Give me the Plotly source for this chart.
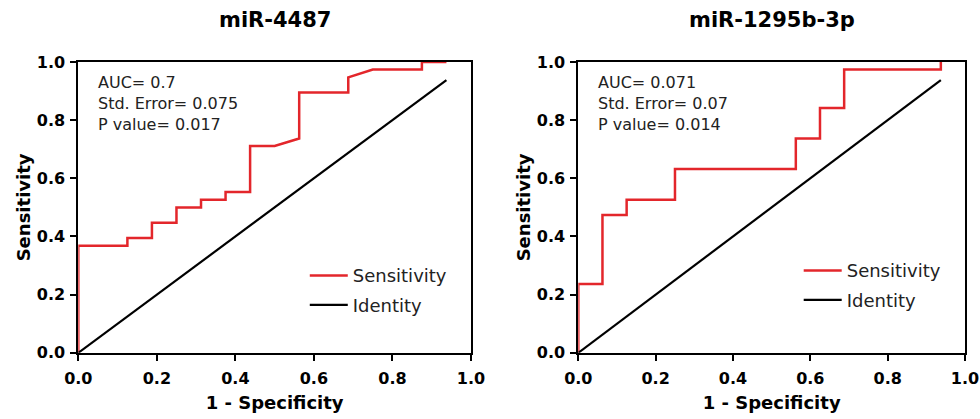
import plotly.graph_objects as go

# ---- data ----
titles = ["miR-4487", "miR-1295b-3p"]
stats_text = [
    ["AUC= 0.7", "Std. Error= 0.075", "P value= 0.017"],
    ["AUC= 0.071", "Std. Error= 0.07", "P value= 0.014"],
]

fpr_4487 = [0, 0, 0.0625, 0.125, 0.125, 0.1875, 0.1875, 0.25, 0.25, 0.3125, 0.3125,
            0.375, 0.375, 0.4375, 0.4375, 0.5, 0.5625, 0.5625, 0.6875, 0.6875,
            0.75, 0.875, 0.875, 0.9375]
sens_4487 = [0, 0.368, 0.368, 0.368, 0.395, 0.395, 0.447, 0.447, 0.5, 0.5, 0.526,
             0.526, 0.553, 0.553, 0.711, 0.711, 0.737, 0.895, 0.895, 0.947,
             0.974, 0.974, 1.0, 1.0]

fpr_1295 = [0, 0, 0.0625, 0.0625, 0.125, 0.125, 0.25, 0.25, 0.5625, 0.5625,
            0.625, 0.625, 0.6875, 0.6875, 0.9375, 0.9375]
sens_1295 = [0, 0.237, 0.237, 0.474, 0.474, 0.526, 0.526, 0.632, 0.632, 0.737,
             0.737, 0.842, 0.842, 0.974, 0.974, 1.0]

identity_x = [0, 0.9375]
identity_y = [0, 0.9375]

tick_vals = [0, 0.2, 0.4, 0.6, 0.8, 1.0]

RED = "#e3262b"
FONT = "DejaVu Sans"

fig = go.Figure()

curves = [(fpr_4487, sens_4487), (fpr_1295, sens_1295)]
for i, (fx, sy) in enumerate(curves):
    xa = "x" if i == 0 else "x2"
    ya = "y" if i == 0 else "y2"
    lg = "legend" if i == 0 else "legend2"
    fig.add_trace(go.Scatter(
        x=fx, y=sy, mode="lines", name="Sensitivity",
        line=dict(color=RED, width=2.5), xaxis=xa, yaxis=ya,
        legend=lg, legendgroup="s%d" % i, cliponaxis=False, hoverinfo="skip"))
    fig.add_trace(go.Scatter(
        x=identity_x, y=identity_y, mode="lines", name="Identity",
        line=dict(color="black", width=2.2), xaxis=xa, yaxis=ya,
        legend=lg, legendgroup="i%d" % i, cliponaxis=False, hoverinfo="skip"))

axis_common = dict(
    range=[0, 1], tickvals=tick_vals, tickformat=".1f",
    showgrid=False, zeroline=False, showline=True, linecolor="black",
    linewidth=2, mirror=True, ticks="outside", ticklen=6, tickwidth=2,
    tickcolor="black", layer="below traces", automargin=False,
    tickfont=dict(family=FONT, size=16, color="black", weight="bold"),
)

xdom = [[0.0799, 0.4806], [0.5901, 0.9847]]
ydom = [0.158, 0.852]

layout = dict(
    width=980, height=419,
    margin=dict(l=0, r=0, t=0, b=0),
    paper_bgcolor="white", plot_bgcolor="white",
    font=dict(family=FONT, color="#222"),
    showlegend=True,
)

for i in range(2):
    sfx = "" if i == 0 else "2"
    layout["xaxis" + sfx] = dict(
        axis_common, domain=xdom[i], anchor="y" + sfx,
        ticklabelstandoff=4,
        title=dict(text="1 - Specificity", standoff=9,
                   font=dict(family=FONT, size=18, color="black", weight="bold")))
    layout["yaxis" + sfx] = dict(
        axis_common, domain=ydom, anchor="x" + sfx,
        ticklabelstandoff=2,
        title=dict(text="Sensitivity", standoff=1,
                   font=dict(family=FONT, size=18, color="black", weight="bold")))

leg_common = dict(
    xanchor="left", yanchor="top", bgcolor="rgba(0,0,0,0)", borderwidth=0,
    font=dict(family=FONT, size=18, color="#222"),
    traceorder="grouped", tracegroupgap=3, itemwidth=38,
)
layout["legend"] = dict(leg_common, x=0.311, y=0.386)
layout["legend2"] = dict(leg_common, x=0.815, y=0.398)

fig.update_layout(**layout)

for i in range(2):
    sfx = "" if i == 0 else "2"
    fig.add_annotation(
        text="<b>%s</b>" % titles[i], xref="x%s domain" % sfx, yref="paper",
        x=0.5, y=(419 - 20) / 419, xanchor="center", yanchor="middle",
        showarrow=False, font=dict(family=FONT, size=21, color="black"))
    fig.add_annotation(
        text="<br>".join(stats_text[i]), xref="x%s domain" % sfx,
        yref="y%s domain" % sfx, x=0.045, y=0.97, xanchor="left",
        yanchor="top", align="left", showarrow=False,
        font=dict(family=FONT, size=16, color="#222"))

fig.write_html("out.html", post_script="document.body.style.margin='0';",
               config={"displayModeBar": False})
